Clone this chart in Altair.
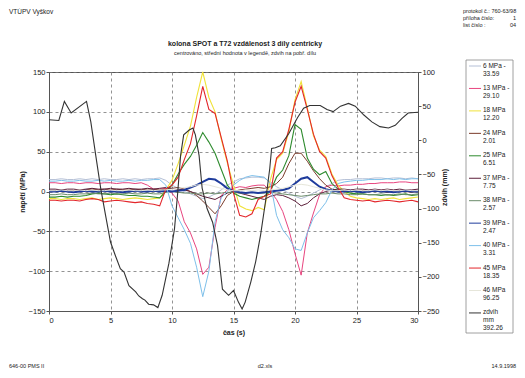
import altair as alt
import pandas as pd

FONT = "Liberation Sans"

# ---------------- data ----------------
T = [0, 0.5, 1, 1.5, 2, 2.5, 3, 3.5, 4, 4.5, 5, 5.5, 6, 6.5, 7, 7.5, 8, 8.5, 9, 9.5,
     10, 10.5, 11, 11.5, 12, 12.5, 13, 13.5, 14, 14.5, 15, 15.5, 16, 16.5, 17, 17.5,
     18, 18.5, 19, 19.5, 20, 20.5, 21, 21.5, 22, 22.5, 23, 23.5, 24, 24.5, 25, 25.5,
     26, 26.5, 27, 27.5, 28, 28.5, 29, 29.5, 30]

S6 = [15, 15, 16, 15, 15, 16, 15, 16, 15, 16, 15, 15, 16, 15, 16, 15, 16, 16, 17,
      14, 8, 4, 0, -3, -6, -9, -7, -3, 2, 8, 12, 16, 17, 18, 18, 17,
      12, 6, 2, -2, -6, -9, -6, -2, 2, 6, 10, 14, 15, 15, 16, 16, 16, 17, 17, 16, 17, 17, 16, 17, 16]
S13 = [11, 11, 10, 11, 11, 10, 11, 11, 10, 11, 11, 10, 11, 11, 10, 11, 8, 3, 3,
       4, -2, -12, -38, -52, -72, -104, -95, -45, -5, 2, 4, 6, 5, 7, 8, 8,
       0, -10, -25, -48, -78, -105, -52, -27, -4, 6, 8, 7, 8, 8, 9, 9, 10, 10, 11, 11, 11, 12, 12, 11, 11]
S18 = [-9, -9, -10, -9, -9, -10, -9, -8, -10, -9, -8, -9, -10, -9, -8, -9, -10, -9, -8,
       2, 14, 35, 58, 82, 118, 150, 118, 100, 66, 36, 8, -18, -22, -24, -20, -23,
       15, 40, 48, 75, 115, 138, 105, 70, 52, 44, 22, 8, 0, -6, -8, -9, -10, -9, -10, -9, -8, -10, -9, -8, -7]
S24 = [1, 1, 2, 1, 1, 2, 2, 3, 2, 3, 2, 3, 2, 2, 3, 2, 3, 3, 2,
       3, 4, 5, 3, 0, -5, -12, -20, -28, -18, -5, 0, 2, 3, 4, 5, 4,
       6, 10, 18, 35, 48, 48, 38, 26, 16, 8, 3, 1, 0, 1, 0, 1, 0, 1, 0, -1, 0, 1, 0, -1, 0]
S25 = [-7, -7, -6, -7, -6, -6, -5, -3, -2, -3, -4, -3, -4, -5, -5, -6, -6, -7, -8,
       0, 8, 22, 34, 44, 58, 74, 62, 48, 28, 8, -2, -6, -8, -10, -8, -6,
       0, 18, 27, 45, 84, 78, 42, 28, 21, 25, 10, 3, 0, -2, -3, -3, -4, -4, -5, -4, -5, -4, -3, -5, -4]
S37 = [3, 3, 2, 3, 3, 2, 3, 4, 3, 3, 4, 3, 3, 4, 3, 3, 4, 3, 4,
       5, 4, 3, 2, 0, -3, -6, -8, -10, -6, -2, 0, -2, -4, -6, -8, -10,
       -6, -4, -5, -8, -12, -18, -15, -8, -3, 0, 2, 3, 3, 2, 3, 3, 2, 3, 2, 3, 2, 3, 2, 2, 3]
S38 = [-4, -4, -3, -4, -4, -3, -3, -2, -3, -3, -2, -3, -3, -2, -3, -3, -2, -3, -3,
       -1, 0, -1, -2, -2, -3, -3, -2, -3, -2, -1, -1, -2, -2, -1, -2, -2,
       -1, -2, -3, -4, -5, -6, -5, -4, -3, -3, -2, -3, -3, -4, -4, -3, -4, -4, -3, -4, -4, -3, -4, -4, -3]
S39 = [0, 0, 1, 0, -1, 0, 1, 0, 0, 1, 0, 0, -1, 0, 1, 0, 0, 1, 0,
       1, 0, 1, 2, 5, 8, 12, 16, 15, 10, 4, 1, -1, -2, -1, -2, -1,
       0, 1, 2, 4, 10, 16, 18, 12, 6, 3, 1, 0, 0, 1, 0, -1, 0, 1, 0, 0, -1, 0, 1, 0, 0]
S40 = [13, 13, 14, 13, 13, 14, 13, 13, 14, 13, 14, 13, 13, 14, 13, 14, 14, 15, 15,
       8, -18, -33, -48, -65, -95, -132, -100, -38, -8, 0, 8, 14, 18, 20, 19, 18,
       10, -30, -48, -58, -72, -74, -52, -33, -24, -14, 2, 10, 12, 13, 14, 14, 15, 15, 15, 16, 15, 16, 15, 16, 16]
S45 = [-11, -11, -12, -11, -11, -12, -10, -9, -10, -13, -12, -11, -12, -13, -14, -13, -15, -16, -18,
       3, 8, 18, 40, 60, 95, 132, 103, 98, 68, 38, -2, -30, -32, -28, -10, -6,
       -3, 42, 50, 78, 112, 132, 103, 72, 50, 42, 20, 5, -8, -10, -11, -12, -11, -13, -12, -11, -12, -13, -12, -11, -13]
S46 = [1, 1, 2, 1, 1, 2, 1, 2, 1, 1, 2, 1, 1, 2, 1, 1, 2, 1, 2,
       2, 3, 4, 5, 6, 8, 9, 8, 6, 4, 2, 1, 1, 2, 1, 2, 1,
       2, 3, 4, 6, 8, 9, 8, 6, 4, 2, 1, 1, 2, 1, 2, 1, 1, 2, 1, 2, 1, 1, 2, 1, 1]

Z_T = [0, 0.8, 1.25, 1.8, 3.05, 3.4, 3.8, 4.2, 4.6, 5.0, 5.4, 5.8, 6.1, 6.5, 7.05, 7.3, 7.6, 7.8,
       8.1, 8.5, 8.85, 9.2, 9.75, 10.2, 10.45, 10.7, 10.95, 11.4, 11.7, 11.9, 12.2, 12.45, 12.85,
       13.3, 13.7, 14.1, 14.6, 15.0, 15.4, 15.7, 15.95, 16.4, 16.8, 17.2, 17.6, 17.95, 18.1, 18.4,
       18.8, 19.5, 20.2, 20.7, 21.2, 22.05, 22.6, 23.1, 23.7, 24.35, 24.9, 25.6, 26.25, 26.9, 27.6,
       28.15, 28.7, 29.2, 30]
Z_V = [30, 29, 57, 40, 57, 27, -22, -70, -110, -149, -169, -188, -193, -213, -222, -228, -232, -234,
       -240, -241, -245, -227, -180, -130, -80, -22, 8, 15, 18, 8, -22, -70, -100,
       -120, -154, -218, -227, -220, -237, -247, -237, -208, -178, -139, -90, -41, -12, -11,
       -8, 10, 33, 47, 51, 51, 45, 42, 50, 54, 50, 37, 27, 20, 18, 22, 32, 40, 41]

SERIES = [S6, S13, S18, S24, S25, S37, S38, S39, S40, S45, S46]
NAMES = ["6 MPa -", "13 MPa -", "18 MPa", "24 MPa", "25 MPa", "37 MPa -", "38 MPa -",
         "39 MPa -", "40 MPa -", "45 MPa", "46 MPa", "zdvih\nmm"]
MEANS = ["33.59", "29.10", "12.20", "2.01", "6.51", "7.75", "2.57", "2.47", "3.31",
         "18.35", "96.25", "392.26"]

# ---------------- styles ----------------
COLORS = ["#b4bfd6", "#e8457f", "#f0e23a", "#7a3a2a", "#2e8b2e", "#5c1f3a", "#6b8c6b",
          "#1f3c9c", "#7ec0ea", "#e3262b", "#e6e6da", "#333333"]
WIDTHS = [1, 1, 1.1, 1, 1.1, 1, 1, 2, 1, 1.1, 1, 1.1]

X = alt.X("t:Q", scale=alt.Scale(domain=[0, 30], nice=False, zero=False),
          axis=alt.Axis(values=[0, 5, 10, 15, 20, 25, 30], grid=True, gridDash=[3, 3],
                        gridColor="#777", gridWidth=0.8, labelFont=FONT, labelFontSize=7.5,
                        labelColor="#222", tickSize=3, labelPadding=2, domainColor="#555",
                        tickColor="#555", title="čas (s)", titleFont=FONT, titleFontSize=7,
                        titleFontWeight="bold", titleColor="#222", titleX=184.5, titleY=21,
                        titleAlign="center", titleBaseline="middle"))

YL = alt.Y("v:Q", scale=alt.Scale(domain=[-150, 150], nice=False, zero=False),
           axis=alt.Axis(values=[-150, -100, -50, 0, 50, 100, 150], grid=True, gridDash=[3, 3],
                         gridColor="#777", gridWidth=0.8, labelFont=FONT, labelFontSize=7.5,
                         labelColor="#222", tickSize=3, labelPadding=1, domainColor="#555",
                         tickColor="#555", title="napětí  (MPa)", titleFont=FONT,
                         titleFontSize=7, titleFontWeight="bold", titleColor="#222",
                         titleAngle=270, titleX=-27, titleY=119.5, titleAlign="center",
                         titleBaseline="middle"))

YR = alt.Y("z:Q", scale=alt.Scale(domain=[-250, 100], nice=False, zero=False),
           axis=alt.Axis(orient="right", values=[-250, -200, -150, -100, -50, 0, 50, 100],
                         grid=False, labelFont=FONT, labelFontSize=7.5, labelColor="#222",
                         tickSize=3, labelPadding=1, domainColor="#555", tickColor="#555",
                         title="zdvih (mm)", titleFont=FONT, titleFontSize=7,
                         titleFontWeight="bold", titleColor="#222", titleAngle=270,
                         titleX=26, titleY=115, titleAlign="center", titleBaseline="middle"))

left_layers = []
for vals, col, w in zip(SERIES, COLORS, WIDTHS):
    df = pd.DataFrame({"t": T, "v": vals})
    left_layers.append(alt.Chart(df).mark_line(color=col, strokeWidth=w).encode(x=X, y=YL))
left = alt.layer(*left_layers)

right = alt.Chart(pd.DataFrame({"t": Z_T, "z": Z_V})).mark_line(
    color=COLORS[-1], strokeWidth=WIDTHS[-1]).encode(x=X, y=YR)


def txt(s, x, y, size=6, weight="normal", align="left"):
    return alt.Chart(pd.DataFrame({"s": [s]})).mark_text(
        font=FONT, fontSize=size, fontWeight=weight, align=align, baseline="middle",
        color="#222").encode(text="s:N", x=alt.value(x), y=alt.value(y))


texts = [
    txt("VTÚPV  Vyškov", -40, -60, 6.5),
    txt("protokol č.: 760-63/98", 414, -61, 5.5),
    txt("příloha číslo:", 414, -54, 5.5),
    txt("1", 467, -54, 5.5, align="right"),
    txt("list číslo :", 414, -47, 5.5),
    txt("04", 467, -47, 5.5, align="right"),
    txt("kolona SPOT a T72 vzdálenost 3 díly centricky", 196, -28, 7, "bold", "center"),
    txt("centrováno, střední hodnota v legendě, zdvih na pobř. dílu", 196, -19, 5.5,
        align="center"),
    txt("646-00 PMS II", -40, 294, 5.5),
    txt("d2.xls", 216, 294, 5.5, align="center"),
    txt("14.9.1998", 467, 294, 5.5, align="right"),
]

box = alt.Chart(pd.DataFrame({"a": [0]})).mark_rect(
    fill="white", stroke="#888", strokeWidth=0.8).encode(
    x=alt.value(417), x2=alt.value(464), y=alt.value(-12), y2=alt.value(261))

leg = pd.DataFrame({"row": list(range(len(NAMES))), "name": NAMES, "mean": MEANS,
                    "col": COLORS})
leg_base = alt.Chart(leg).transform_calculate(
    ly="datum.row * 22.45 - 6", ty="datum.row * 22.45 - 9.5",
    lbl="datum.name + '\\n' + datum.mean")
leg_rules = leg_base.mark_rule(strokeWidth=1).encode(
    x=alt.value(420), x2=alt.value(432), y=alt.Y("ly:Q", scale=None),
    color=alt.Color("col:N", scale=None))
leg_text = leg_base.mark_text(
    font=FONT, fontSize=6.5, align="left", baseline="top", lineBreak="\n", lineHeight=8,
    color="#222").encode(x=alt.value(434), y=alt.Y("ty:Q", scale=None), text="lbl:N")

chart = alt.layer(left, right, *texts, box, leg_rules, leg_text).resolve_scale(
    y="independent").properties(
    width=369, height=239, autosize="none",
    padding={"left": 41, "top": 64, "right": 99, "bottom": 59}).configure_view(
    stroke="#555", strokeWidth=1)

chart.save("out.html", embed_options={"renderer": "svg", "actions": False})
